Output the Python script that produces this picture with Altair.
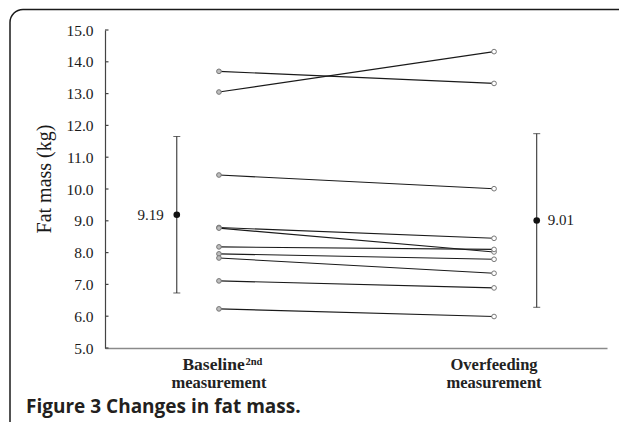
import altair as alt
import pandas as pd

# ---- data ----
subjects = [f"S{i}" for i in range(1, 11)]
baseline_fm = [13.70, 13.05, 10.44, 8.79, 8.77, 8.18, 7.96, 7.83, 7.11, 6.23]
overfeed_fm = [13.32, 14.32, 10.01, 8.45, 8.02, 8.10, 7.79, 7.35, 6.89, 5.99]
phases = ["Baseline", "Overfeeding"]
phase_x = [2.27, 7.75]          # category positions on a 0-10 x scale
mean_fm = [9.19, 9.01]
sd_fm = [2.46, 2.73]
mean_x = [1.43, 8.60]
mean_labels = ["9.19", "9.01"]
y_ticks = [5, 6, 7, 8, 9, 10, 11, 12, 13, 14, 15]
xlab_top = ["Baseline", "Overfeeding"]
xlab_sup = ["2nd", ""]
xlab_bottom = ["measurement", "measurement"]
caption = "Figure 3 Changes in fat mass."

rows = []
for s, b, o in zip(subjects, baseline_fm, overfeed_fm):
    rows.append(dict(subject=s, phase=phases[0], x=phase_x[0], fm=b))
    rows.append(dict(subject=s, phase=phases[1], x=phase_x[1], fm=o))
ind = pd.DataFrame(rows)

means = pd.DataFrame(dict(x=mean_x, mean=mean_fm, sd=sd_fm, label=mean_labels))
means["low"] = means["mean"] - means["sd"]
means["high"] = means["mean"] + means["sd"]

xlabs = pd.DataFrame(dict(x=phase_x, top=xlab_top, sup=xlab_sup, bottom=xlab_bottom))

xs = alt.Scale(domain=[0, 10])
ys = alt.Scale(domain=[5, 15])
SERIF = "Liberation Serif"

x_ax = alt.Axis(title=None, labels=False, ticks=False, grid=False,
                domainColor="#8a8a8a", domainWidth=1.3)
y_ax = alt.Axis(
    title="Fat mass (kg)", values=y_ticks, format=".1f", grid=False,
    ticks=False, tickSize=0, labelPadding=12, labelFont=SERIF,
    labelFontSize=15.5, labelColor="#1a1a1a", domainColor="#444", domainWidth=1.2,
    titleFont=SERIF, titleFontSize=20, titleFontWeight="normal",
    titleAngle=270, titleX=-61, titleY=148.5, titleAlign="center",
    titleBaseline="middle", titleColor="#1a1a1a")


def X(f="x"):
    return alt.X(f"{f}:Q", scale=xs, axis=x_ax, title=None)


def Y(f):
    return alt.Y(f"{f}:Q", scale=ys, axis=y_ax, title="Fat mass (kg)")


one = pd.DataFrame({"a": [0]})

frame = alt.Chart(one).mark_rect(
    fill="white", fillOpacity=0, stroke="#1a1a1a", strokeWidth=1.5,
    cornerRadius=13).encode(
    x=alt.value(-95), x2=alt.value(560), y=alt.value(-20.5), y2=alt.value(470))

lines = alt.Chart(ind).mark_line(color="#1a1a1a", strokeWidth=1.1).encode(
    x=X(), y=Y("fm"), detail="subject:N")

points = alt.Chart(ind).mark_point(
    shape="circle", filled=True, size=22, stroke="#777", strokeWidth=1,
    opacity=1).encode(
    x=X(), y=Y("fm"),
    fill=alt.Fill("phase:N", scale=alt.Scale(domain=phases, range=["#bdbdbd", "#ffffff"]), legend=None))

yt = alt.Chart(pd.DataFrame({"t": y_ticks})).mark_rule(color="#444", strokeWidth=1.2).encode(
    y=Y("t"), x=alt.value(0), x2=alt.value(3.5))

err = alt.Chart(means).mark_rule(color="#222", strokeWidth=1).encode(
    x=X(), y=Y("low"), y2="high:Q")
cap_lo = alt.Chart(means).mark_tick(orient="horizontal", size=7, thickness=1, color="#222").encode(
    x=X(), y=Y("low"))
cap_hi = alt.Chart(means).mark_tick(orient="horizontal", size=7, thickness=1, color="#222").encode(
    x=X(), y=Y("high"))
mpts = alt.Chart(means).mark_circle(size=44, color="#111", opacity=1).encode(
    x=X(), y=Y("mean"))

lab_l = alt.Chart(means.iloc[[0]]).mark_text(
    align="right", baseline="middle", dx=-13, font=SERIF, fontSize=15, color="#1a1a1a").encode(
    x=X(), y=Y("mean"), text="label:N")
lab_r = alt.Chart(means.iloc[[1]]).mark_text(
    align="left", baseline="middle", dx=11, font=SERIF, fontSize=15, color="#1a1a1a").encode(
    x=X(), y=Y("mean"), text="label:N")

xl_base = alt.Chart(xlabs.iloc[[0]]).mark_text(
    align="right", baseline="alphabetic", dx=25.7, font=SERIF, fontSize=17.5,
    fontWeight="bold", color="#222").encode(x=X(), y=alt.value(339.5), text="top:N")
xl_sup = alt.Chart(xlabs.iloc[[0]]).mark_text(
    align="left", baseline="alphabetic", dx=26.5, font=SERIF, fontSize=10.5,
    fontWeight="bold", color="#222").encode(x=X(), y=alt.value(335), text="sup:N")
xl_over = alt.Chart(xlabs.iloc[[1]]).mark_text(
    align="center", baseline="alphabetic", font=SERIF, fontSize=16.5,
    fontWeight="bold", color="#222").encode(x=X(), y=alt.value(340), text="top:N")
xl_bot = alt.Chart(xlabs).mark_text(
    align="center", baseline="alphabetic", font=SERIF, fontSize=16.5,
    fontWeight="bold", color="#222").encode(x=X(), y=alt.value(358.3), text="bottom:N")

cap = alt.Chart(pd.DataFrame({"c": [caption]})).mark_text(
    align="left", baseline="alphabetic", font="Open Sans", fontWeight="bold",
    fontSize=19, color="#231f20").encode(
    x=alt.value(-79), y=alt.value(382.5), text="c:N")

chart = alt.layer(
    frame, lines, points, yt, err, cap_lo, cap_hi, mpts, lab_l, lab_r,
    xl_base, xl_sup, xl_over, xl_bot, cap
).properties(
    width=502, height=318,
    autosize=alt.AutoSizeParams(type="none"),
    padding={"left": 97, "top": 22, "right": 12, "bottom": 74},
).configure_view(stroke=None).configure_axis(
    labelFont=SERIF, labelFontSize=15.5, labelColor="#1a1a1a",
    titleFont=SERIF,
)

chart.save("out.html", embed_options={"renderer": "svg", "actions": False})
